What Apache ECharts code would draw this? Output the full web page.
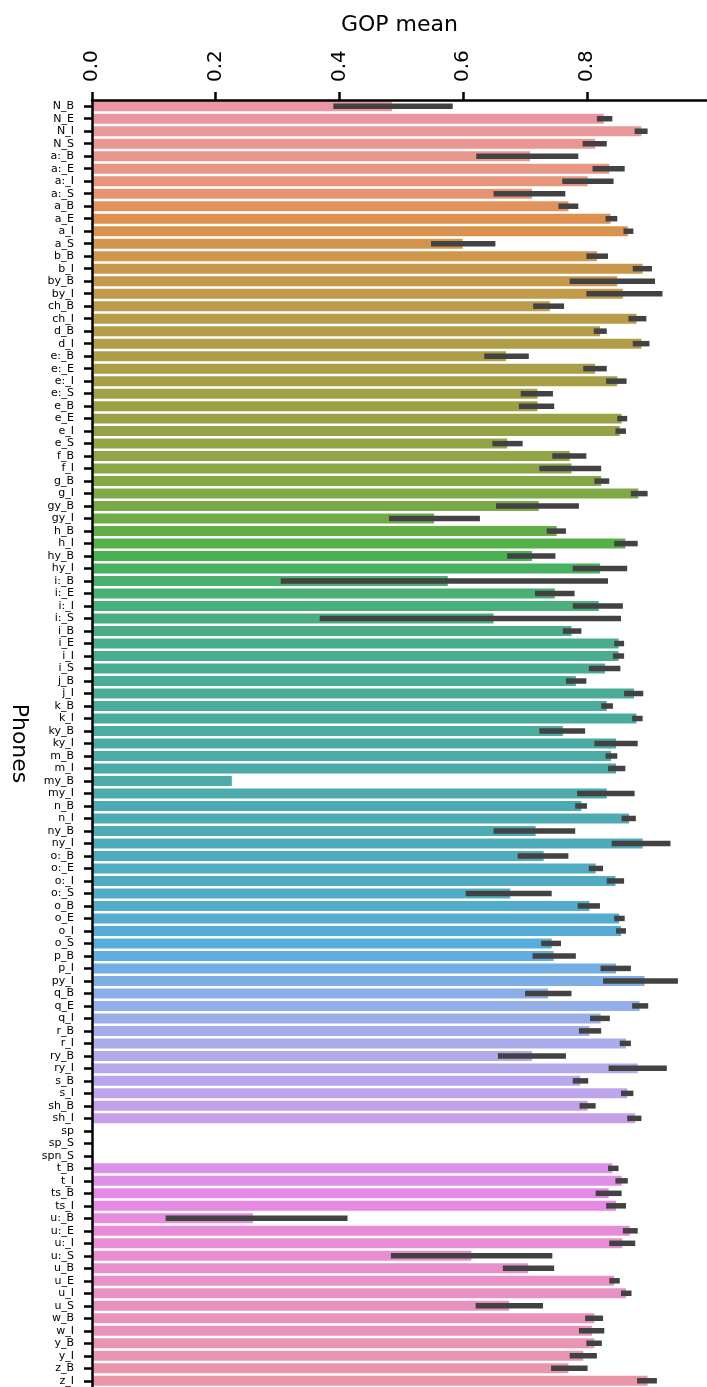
<!DOCTYPE html>
<html>
<head>
<meta charset="utf-8">
<script src="https://cdn.jsdelivr.net/npm/echarts@6/dist/echarts.min.js"></script>
<style>
html,body{margin:0;padding:0;background:#fff;}
#chart{width:707px;height:1387px;}
</style>
</head>
<body>
<div id="chart"></div>
<script>
const categories = ["N_B","N_E","N_I","N_S","a:_B","a:_E","a:_I","a:_S","a_B","a_E","a_I","a_S","b_B","b_I","by_B","by_I","ch_B","ch_I","d_B","d_I","e:_B","e:_E","e:_I","e:_S","e_B","e_E","e_I","e_S","f_B","f_I","g_B","g_I","gy_B","gy_I","h_B","h_I","hy_B","hy_I","i:_B","i:_E","i:_I","i:_S","i_B","i_E","i_I","i_S","j_B","j_I","k_B","k_I","ky_B","ky_I","m_B","m_I","my_B","my_I","n_B","n_I","ny_B","ny_I","o:_B","o:_E","o:_I","o:_S","o_B","o_E","o_I","o_S","p_B","p_I","py_I","q_B","q_E","q_I","r_B","r_I","ry_B","ry_I","s_B","s_I","sh_B","sh_I","sp","sp_S","spn_S","t_B","t_I","ts_B","ts_I","u:_B","u:_E","u:_I","u:_S","u_B","u_E","u_I","u_S","w_B","w_I","y_B","y_I","z_B","z_I"];

const means = [0.485,0.827,0.888,0.813,0.708,0.836,0.801,0.711,0.770,0.838,0.866,0.599,0.816,0.890,0.849,0.858,0.740,0.880,0.821,0.888,0.669,0.813,0.849,0.720,0.720,0.856,0.853,0.671,0.772,0.775,0.823,0.883,0.722,0.553,0.751,0.862,0.711,0.821,0.575,0.748,0.819,0.649,0.775,0.851,0.851,0.829,0.782,0.876,0.832,0.880,0.761,0.847,0.839,0.847,0.226,0.832,0.791,0.868,0.717,0.890,0.730,0.814,0.846,0.676,0.804,0.852,0.855,0.743,0.746,0.847,0.893,0.737,0.885,0.822,0.804,0.863,0.711,0.882,0.789,0.865,0.801,0.878,null,null,null,0.841,0.856,0.835,0.847,0.260,0.869,0.857,0.613,0.705,0.844,0.863,0.674,0.812,0.808,0.812,0.794,0.770,0.898];

const ciLow = [0.390,0.816,0.877,0.793,0.621,0.809,0.760,0.649,0.754,0.830,0.859,0.548,0.799,0.874,0.772,0.799,0.713,0.867,0.811,0.874,0.634,0.794,0.831,0.693,0.690,0.849,0.846,0.647,0.744,0.723,0.812,0.871,0.653,0.480,0.735,0.844,0.671,0.777,0.305,0.716,0.777,0.368,0.761,0.844,0.842,0.803,0.766,0.860,0.823,0.873,0.723,0.812,0.830,0.834,null,0.784,0.781,0.856,0.649,0.840,0.688,0.803,0.832,0.604,0.785,0.844,0.847,0.726,0.712,0.822,0.826,0.700,0.873,0.805,0.787,0.853,0.656,0.835,0.777,0.855,0.788,0.865,null,null,null,0.834,0.846,0.814,0.831,0.119,0.858,0.836,0.483,0.664,0.836,0.855,0.620,0.797,0.787,0.799,0.772,0.742,0.881];

const ciHigh = [0.583,0.841,0.898,0.832,0.786,0.861,0.843,0.765,0.786,0.849,0.875,0.652,0.834,0.905,0.910,0.922,0.763,0.896,0.832,0.901,0.706,0.832,0.864,0.745,0.747,0.865,0.863,0.696,0.799,0.823,0.836,0.898,0.787,0.627,0.766,0.882,0.749,0.865,0.834,0.780,0.858,0.855,0.791,0.860,0.860,0.854,0.799,0.891,0.842,0.890,0.797,0.882,0.849,0.862,null,0.877,0.800,0.879,0.781,0.935,0.770,0.826,0.860,0.743,0.821,0.861,0.863,0.758,0.782,0.871,0.947,0.775,0.899,0.837,0.823,0.871,0.766,0.929,0.802,0.875,0.814,0.888,null,null,null,0.851,0.866,0.856,0.863,0.413,0.882,0.878,0.744,0.747,0.853,0.872,0.729,0.826,0.828,0.824,0.816,0.801,0.913];

const xTicks = [0.0, 0.2, 0.4, 0.6, 0.8];

// --- seaborn-like husl palette (style only) ---
const M = [[3.2406,-1.5372,-0.4986],[-0.9689,1.8758,0.0415],[0.0557,-0.2040,1.0570]];
function fInv(t){ const t3=t*t*t; return t3>0.008856 ? t3 : (116*t-16)/903.3; }
function fromLinear(c){ return c<=0.0031308 ? 12.92*c : 1.055*Math.pow(c,1/2.4)-0.055; }
function huslToRgb(h,s,l){
  const hrad=h/180*Math.PI, sinH=Math.sin(hrad), cosH=Math.cos(hrad);
  const sub1=Math.pow(l+16,3)/1560896, sub2= sub1>0.008856?sub1:l/903.3;
  let mx=Infinity;
  for(const [m1,m2,m3] of M){
    const top=(0.99915*m1+1.05122*m2+1.14460*m3)*sub2;
    const rb=0.86330*m3-0.17266*m2, lb=0.12949*m3-0.38848*m1;
    const bottom=(rb*sinH+lb*cosH)*sub2;
    for(const t of [0,1]){
      const C=l*(top-1.05122*t)/(bottom+0.17266*sinH*t);
      if(C>0&&C<mx) mx=C;
    }
  }
  const C=mx/100*s, U=Math.cos(hrad)*C, V=Math.sin(hrad)*C;
  const Y=fInv((l+16)/116), vu=U/(13*l)+0.19784, vv=V/(13*l)+0.46834;
  const X=-(9*Y*vu)/((vu-4)*vv-vu*vv);
  const Z=(9*Y-15*vv*Y-vv*X)/(3*vv);
  return M.map(r=>Math.min(1,Math.max(0,fromLinear(r[0]*X+r[1]*Y+r[2]*Z))));
}
function rgbToHls(r,g,b){
  const mx=Math.max(r,g,b), mn=Math.min(r,g,b), l=(mx+mn)/2;
  if(mx===mn) return [0,l,0];
  const d=mx-mn, s= l<=0.5 ? d/(mx+mn) : d/(2-mx-mn);
  let h;
  if(mx===r) h=((g-b)/d)%6; else if(mx===g) h=(b-r)/d+2; else h=(r-g)/d+4;
  h=(h/6+1)%1;
  return [h,l,s];
}
function hue2rgb(p,q,t){ t=(t+1)%1; if(t<1/6) return p+(q-p)*6*t; if(t<1/2) return q; if(t<2/3) return p+(q-p)*(2/3-t)*6; return p; }
function hlsToRgb(h,l,s){
  if(s===0) return [l,l,l];
  const q= l<0.5 ? l*(1+s) : l+s-l*s, p=2*l-q;
  return [hue2rgb(p,q,h+1/3),hue2rgb(p,q,h),hue2rgb(p,q,h-1/3)];
}
function toHex(rgb){ return '#'+rgb.map(v=>Math.round(v*255).toString(16).padStart(2,'0')).join(''); }
const n = categories.length;
const colors = categories.map((_,i)=>{
  const h = ((i/n + 0.01) % 1) * 359;
  const rgb = huslToRgb(h, 0.9*99, 0.7*99);
  const [hh,ll,ss] = rgbToHls(...rgb);
  return toHex(hlsToRgb(hh,ll,ss*0.75));
});

const barData = means.map((v,i)=> v==null ? null : {value:v, itemStyle:{color:colors[i]}});
const errData = [];
ciLow.forEach((lo,i)=>{ if(lo!=null && ciHigh[i]!=null) errData.push([i, lo, ciHigh[i]]); });

const chart = echarts.init(document.getElementById('chart'), null, {renderer:'canvas'});
const FONT = 'DejaVu Sans';
chart.setOption({
  animation:false,
  backgroundColor:'#fff',
  grid:{left:90, right:-13, top:100, bottom:-3, containLabel:false},
  xAxis:{
    type:'value', position:'top', min:0, max:0.994, interval:0.2, z:10,
    name:'GOP mean', nameLocation:'middle', nameGap:64,
    nameTextStyle:{fontFamily:FONT, fontSize:22, color:'#000'},
    axisLine:{show:true, lineStyle:{color:'#000', width:2.5}},
    axisTick:{show:true, length:8, lineStyle:{color:'#000', width:2.5}},
    axisLabel:{rotate:-90, margin:18, fontFamily:FONT, fontSize:20, color:'#000', showMaxLabel:false,
      formatter:v=> xTicks.some(t=>Math.abs(t-v)<1e-9) ? v.toFixed(1) : ''},
    splitLine:{show:false}
  },
  yAxis:{
    type:'category', data:categories, inverse:true, z:10,
    name:'Phones', nameLocation:'middle', nameGap:62, nameRotate:-90,
    nameTextStyle:{fontFamily:FONT, fontSize:22, color:'#000'},
    axisLine:{show:true, lineStyle:{color:'#000', width:2.5}},
    axisTick:{show:true, alignWithLabel:true, length:8, lineStyle:{color:'#000', width:2.5}},
    axisLabel:{interval:0, margin:18, fontFamily:FONT, fontSize:11, color:'#000'},
    splitLine:{show:false}
  },
  series:[
    {type:'bar', data:barData, barWidth:'80%', itemStyle:{borderWidth:0}},
    {type:'custom', data:errData, encode:{x:[1,2], y:0}, z:5,
      renderItem:(params, api)=>{
        const c=api.value(0), lo=api.value(1), hi=api.value(2);
        const p1=api.coord([lo,c]), p2=api.coord([hi,c]);
        return {type:'line', shape:{x1:p1[0],y1:p1[1],x2:p2[0],y2:p2[1]},
          style:{stroke:'#424242', lineWidth:5.5}};
      }}
  ]
});
</script>
</body>
</html>
